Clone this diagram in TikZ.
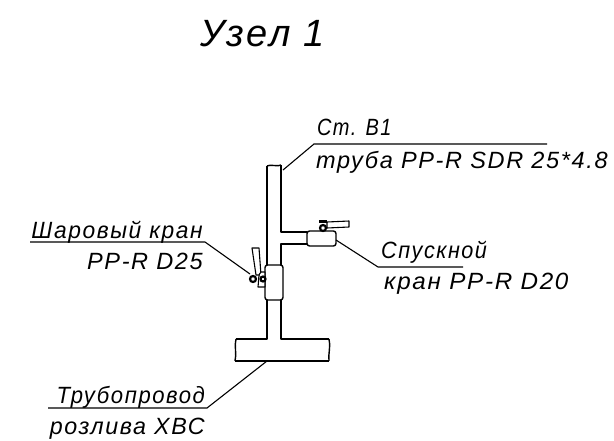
\documentclass[tikz,border=0pt]{standalone}
\usepackage{fontspec}
\setmainfont[LetterSpace=7]{Liberation Sans}
\usetikzlibrary{positioning}

\begin{document}
\begin{tikzpicture}[
  x=1pt, y=-1pt,
  pipe/.style={line width=1.4pt, line join=round},
  leader/.style={line width=1.1pt},
  labeltext/.style={inner sep=0pt, font=\fontsize{23.5}{24}\selectfont\itshape},
  lever/.style={line width=1.1pt, fill=white, line join=round},
  ballnut/.style={circle, draw, line width=2.2pt, fill=white, minimum size=6pt, inner sep=0pt}
]
\useasboundingbox (0,0) rectangle (614,440);

% labels
\node[labeltext, anchor=base west, font=\fontsize{38}{38}\selectfont\itshape] (title) at (200,46) {Узел 1};
\node[labeltext, anchor=base west, xscale=0.85, transform shape] (riser) at (317,135) {Ст. В1};
\node[labeltext, anchor=base west] (risertype) at (316,168) {труба PP-R SDR 25*4.8};
\node[labeltext, anchor=base east, xscale=0.97, transform shape] (ballvalve) at (203,238) {Шаровый кран};
\node[labeltext, anchor=base east] (ballsize) at (203,269) {PP-R D25};
\node[labeltext, anchor=base west, xscale=0.92, transform shape] (drain) at (381,258) {Спускной};
\node[labeltext, anchor=base west, xscale=1.03, transform shape] (drainsize) at (384,289) {кран PP-R D20};
\node[labeltext, anchor=base east, xscale=0.94, transform shape] (mainpipe) at (205,403) {Трубопровод};
\node[labeltext, anchor=base east, xscale=0.99, transform shape] (mainname) at (205,434) {розлива ХВС};

% riser and branch
\draw[pipe] (267,166) .. controls (270,164) and (278,167) .. (281,165);
\draw[pipe] (267,166) -- (267,265);
\draw[pipe] (281,165) -- (281,232) -- (307,232);
\draw[pipe] (281,265) -- (281,244) -- (307,244);
\draw[pipe] (267,300) -- (267,339) -- (236,339);
\draw[pipe] (281,300) -- (281,339) -- (329,339);
\draw[pipe] (235,361) -- (329,361);
\draw[pipe] (236,339) .. controls (234,346) and (237,354) .. (235,361);
\draw[pipe] (329,339) .. controls (331,346) and (328,354) .. (329,361);

% valve bodies
\draw[pipe, rounded corners=2.5pt] (265,265) rectangle (283,300);
\draw[pipe, rounded corners=2.5pt] (307,231) rectangle (336,246);

% valve levers
\draw[lever] (327,222) -- (349,221) -- (349,227) -- (327,228) -- cycle;
\node[ballnut] (drainball) at (323,228) {};
\draw[line width=3pt] (319,221) -- (327,221);
\draw[lever] (252,248) -- (259,248) -- (261,275) -- (256,275) -- cycle;
\draw[lever] (258,287) .. controls (259,280) and (258,274) .. (261,272) -- (265,272) -- (265,287) -- cycle;
\node[ballnut] (shutball) at (253,279) {};
\node[ballnut, minimum size=5pt] (shutnut) at (263,279) {};

% leader lines
\coordinate (risertip) at (283,170);
\coordinate (riserknee) at (314,144);
\coordinate (riserend) at (547,144);
\coordinate (draintip) at (336,240);
\coordinate (drainknee) at (378,267);
\coordinate (drainend) at (463,267);
\coordinate (balltip) at (250,274);
\coordinate (ballknee) at (205,242);
\coordinate (ballend) at (30,242);
\coordinate (maintip) at (267,361);
\coordinate (mainknee) at (207,408);
\coordinate (mainend) at (48,408);
\draw[leader] (risertip) -- (riserknee) -- (riserend);
\draw[leader] (draintip) -- (drainknee) -- (drainend);
\draw[leader] (balltip) -- (ballknee) -- (ballend);
\draw[leader] (maintip) -- (mainknee) -- (mainend);

\end{tikzpicture}
\end{document}
